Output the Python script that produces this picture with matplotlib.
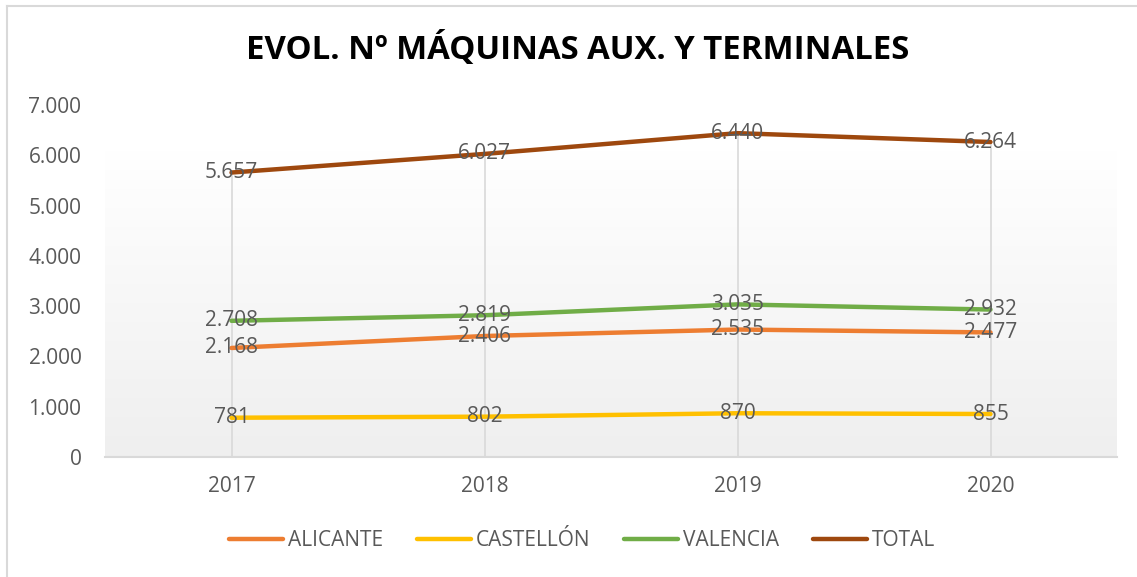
import matplotlib
matplotlib.use("Agg")
import matplotlib.pyplot as plt
import numpy as np
from matplotlib.lines import Line2D

years = ["2017", "2018", "2019", "2020"]
alicante = [2168, 2406, 2535, 2477]
castellon = [781, 802, 870, 855]
valencia = [2708, 2819, 3035, 2932]
total = [5657, 6027, 6440, 6264]
series_names = ["ALICANTE", "CASTELLÓN", "VALENCIA", "TOTAL"]
series_values = [alicante, castellon, valencia, total]
series_colors = ["#ED7D31", "#FFC000", "#70AD47", "#9E480E"]
yticks = [0, 1000, 2000, 3000, 4000, 5000, 6000, 7000]
title = "EVOL. Nº MÁQUINAS AUX. Y TERMINALES"

def fmt(v):
    return f"{v:,}".replace(",", ".")

W, H = 1137, 577
fig = plt.figure(figsize=(W / 100, H / 100), dpi=100)
ax = fig.add_axes([105 / W, 1 - 457 / H, (1117 - 105) / W, (457 - 105) / H])

x = np.arange(len(years))
ax.set_xlim(-0.5, len(years) - 0.5)
ax.set_ylim(0, 7000)

# gradient background
top_c = np.array([1.0, 1.0, 1.0])
bot_c = np.array([0.937, 0.937, 0.937])
t = np.linspace(0, 1, 256)
t = np.clip((t - 0.13) / 0.87, 0, 1)
img = top_c[None, None, :] * (1 - t)[:, None, None] + bot_c[None, None, :] * t[:, None, None]
ax.imshow(img, extent=[-0.5, len(years) - 0.5, 0, 7000], aspect="auto", origin="upper", zorder=0)

# drop lines
ax.vlines(x, 0, total, colors="#D9D9D9", linewidth=1.2, zorder=1)

for name, vals, c in zip(series_names, series_values, series_colors):
    ax.plot(x, vals, color=c, linewidth=3.2, solid_capstyle="round", zorder=3, label=name)
    for xi, v in zip(x, vals):
        ax.text(xi, v, fmt(v), ha="center", va="center", fontsize=15, color="#595959",
                family="Open Sans", zorder=4)

ax.set_yticks(yticks)
ax.set_yticklabels([fmt(v) for v in yticks], fontsize=15, color="#595959", family="Open Sans")
ax.set_xticks(x)
ax.set_xticklabels(years, fontsize=15, color="#595959", family="Open Sans")
ax.tick_params(axis="both", length=0)
ax.tick_params(axis="y", pad=17)
ax.tick_params(axis="x", pad=14)
for s in ["top", "right", "left"]:
    ax.spines[s].set_visible(False)
ax.spines["bottom"].set_color("#D9D9D9")
ax.spines["bottom"].set_linewidth(1.5)

fig.text(578 / W, 1 - 50 / H, title, ha="center", va="center", fontsize=23.7,
         fontweight="bold", color="black", family="Open Sans")

handles = [Line2D([0], [0], color=c, linewidth=3.2, solid_capstyle="round") for c in series_colors]
fig.legend(handles, series_names, loc="center", bbox_to_anchor=(582 / W, 1 - 541 / H), ncol=4,
           frameon=False, prop={"family": "Open Sans", "size": 15}, labelcolor="#595959",
           handlelength=2.6, handletextpad=0.25, columnspacing=1.6)

# outer border
fig.add_artist(Line2D([7 / W, 7 / W], [0, 1 - 6 / H], color="#D9D9D9", linewidth=1.5, transform=fig.transFigure))
fig.add_artist(Line2D([7 / W, 1], [1 - 6 / H, 1 - 6 / H], color="#D9D9D9", linewidth=1.5, transform=fig.transFigure))

fig.savefig("out.png", dpi=100)
